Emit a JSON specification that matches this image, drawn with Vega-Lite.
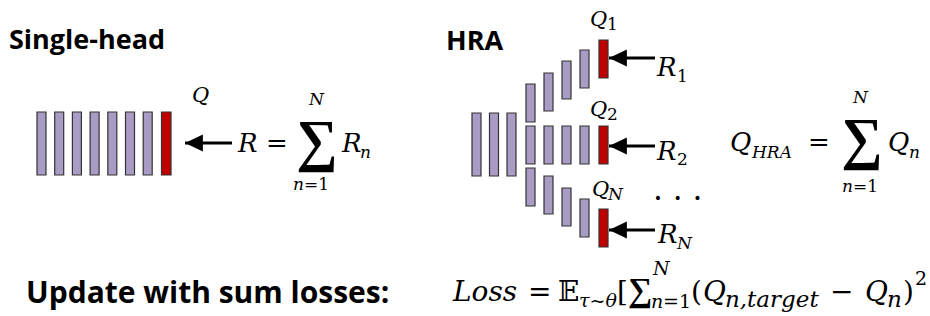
{
  "$schema": "https://vega.github.io/schema/vega-lite/v6.json",
  "width": 930,
  "height": 316,
  "autosize": {"type": "fit", "contains": "padding"},
  "padding": 0,
  "background": "white",
  "config": {"view": {"stroke": null}},
  "datasets": {
    "bars": [
      {"x0": 37, "x1": 46, "y0": 112, "y1": 175, "kind": "hidden"},
      {"x0": 54.7, "x1": 63.7, "y0": 112, "y1": 175, "kind": "hidden"},
      {"x0": 72.4, "x1": 81.4, "y0": 112, "y1": 175, "kind": "hidden"},
      {"x0": 90.1, "x1": 99.1, "y0": 112, "y1": 175, "kind": "hidden"},
      {"x0": 107.8, "x1": 116.8, "y0": 112, "y1": 175, "kind": "hidden"},
      {"x0": 125.5, "x1": 134.5, "y0": 112, "y1": 175, "kind": "hidden"},
      {"x0": 143.2, "x1": 152.2, "y0": 112, "y1": 175, "kind": "hidden"},
      {"x0": 161.5, "x1": 171, "y0": 112, "y1": 175, "kind": "output"},
      {"x0": 472, "x1": 481, "y0": 113, "y1": 176, "kind": "hidden"},
      {"x0": 489.5, "x1": 498.5, "y0": 113, "y1": 176, "kind": "hidden"},
      {"x0": 507, "x1": 516, "y0": 113, "y1": 176, "kind": "hidden"},
      {"x0": 526, "x1": 535, "y0": 84, "y1": 122, "kind": "hidden"},
      {"x0": 544, "x1": 553, "y0": 73, "y1": 111, "kind": "hidden"},
      {"x0": 562, "x1": 571, "y0": 61, "y1": 99, "kind": "hidden"},
      {"x0": 580, "x1": 589, "y0": 50, "y1": 88, "kind": "hidden"},
      {"x0": 599, "x1": 608, "y0": 40, "y1": 78, "kind": "output"},
      {"x0": 526, "x1": 535, "y0": 126, "y1": 164, "kind": "hidden"},
      {"x0": 544, "x1": 553, "y0": 126, "y1": 164, "kind": "hidden"},
      {"x0": 562, "x1": 571, "y0": 126, "y1": 164, "kind": "hidden"},
      {"x0": 580, "x1": 589, "y0": 126, "y1": 164, "kind": "hidden"},
      {"x0": 599, "x1": 608, "y0": 126, "y1": 164, "kind": "output"},
      {"x0": 526, "x1": 535, "y0": 168, "y1": 206, "kind": "hidden"},
      {"x0": 544, "x1": 553, "y0": 176, "y1": 214, "kind": "hidden"},
      {"x0": 562, "x1": 571, "y0": 188, "y1": 226, "kind": "hidden"},
      {"x0": 580, "x1": 589, "y0": 199, "y1": 237, "kind": "hidden"},
      {"x0": 599, "x1": 608, "y0": 209, "y1": 247, "kind": "output"}
    ],
    "arrows": [
      {"tip": 185, "end": 232, "y": 143},
      {"tip": 609, "end": 655, "y": 58},
      {"tip": 609, "end": 655, "y": 146},
      {"tip": 609, "end": 655, "y": 230}
    ],
    "heads": [
      {"x": 9, "y": 49, "t": "Single-head", "lvl": "h1"},
      {"x": 446, "y": 50, "t": "HRA", "lvl": "h1"},
      {"x": 26, "y": 303, "t": "Update with sum losses:", "lvl": "h2"}
    ],
    "mathIt": [
      {"x": 192, "y": 102, "t": "Q", "lvl": "lab"},
      {"x": 238, "y": 152, "t": "R", "lvl": "big"},
      {"x": 342, "y": 152, "t": "R", "lvl": "big"},
      {"x": 360, "y": 158, "t": "n", "lvl": "sub"},
      {"x": 309, "y": 105, "t": "N", "lvl": "sub"},
      {"x": 293, "y": 190, "t": "n", "lvl": "sub"},
      {"x": 590, "y": 26, "t": "Q", "lvl": "lab"},
      {"x": 590, "y": 116, "t": "Q", "lvl": "lab"},
      {"x": 592, "y": 196, "t": "Q", "lvl": "lab"},
      {"x": 608, "y": 200, "t": "N", "lvl": "sub"},
      {"x": 657, "y": 76, "t": "R", "lvl": "big"},
      {"x": 657, "y": 160, "t": "R", "lvl": "big"},
      {"x": 658, "y": 243, "t": "R", "lvl": "big"},
      {"x": 677, "y": 249, "t": "N", "lvl": "sub"},
      {"x": 730, "y": 151, "t": "Q", "lvl": "big"},
      {"x": 752, "y": 158, "t": "HRA", "lvl": "sub"},
      {"x": 853, "y": 103, "t": "N", "lvl": "sub"},
      {"x": 842, "y": 192, "t": "n", "lvl": "sub"},
      {"x": 888, "y": 151, "t": "Q", "lvl": "big"},
      {"x": 909, "y": 158, "t": "n", "lvl": "sub"},
      {"x": 453, "y": 301, "t": "Loss", "lvl": "bbig"},
      {"x": 579, "y": 307, "t": "τ~θ", "lvl": "bsml"},
      {"x": 653, "y": 275, "t": "N", "lvl": "bsml"},
      {"x": 651, "y": 308, "t": "n", "lvl": "bsml"},
      {"x": 703, "y": 301, "t": "Q", "lvl": "bbig"},
      {"x": 725, "y": 307, "t": "n,target", "lvl": "bsub"},
      {"x": 865, "y": 301, "t": "Q", "lvl": "bbig"},
      {"x": 887, "y": 307, "t": "n", "lvl": "bsub"}
    ],
    "mathUp": [
      {"x": 266, "y": 152, "t": "=", "lvl": "big"},
      {"x": 304, "y": 190, "t": "=1", "lvl": "sub"},
      {"x": 607, "y": 30, "t": "1", "lvl": "sub"},
      {"x": 607, "y": 120, "t": "2", "lvl": "sub"},
      {"x": 677, "y": 82, "t": "1", "lvl": "sub"},
      {"x": 677, "y": 165, "t": "2", "lvl": "sub"},
      {"x": 653, "y": 200, "t": ". . .", "lvl": "dots"},
      {"x": 808, "y": 151, "t": "=", "lvl": "big"},
      {"x": 853, "y": 192, "t": "=1", "lvl": "sub"},
      {"x": 528, "y": 301, "t": "=", "lvl": "bbig"},
      {"x": 558, "y": 301, "t": "𝔼", "lvl": "bbig"},
      {"x": 617, "y": 301, "t": "[", "lvl": "bbig"},
      {"x": 663, "y": 308, "t": "=1", "lvl": "bsml"},
      {"x": 691, "y": 301, "t": "(", "lvl": "bbig"},
      {"x": 830, "y": 301, "t": "−", "lvl": "bbig"},
      {"x": 903, "y": 301, "t": ")", "lvl": "bbig"},
      {"x": 915, "y": 285, "t": "2", "lvl": "bsml"}
    ],
    "sigmas": [
      {"x": 296, "y": 143, "lvl": "sigma", "t": "∑"},
      {"x": 841, "y": 141, "lvl": "sigma", "t": "∑"},
      {"x": 628, "y": 291, "lvl": "sig2", "t": "∑"}
    ]
  },
  "layer": [
    {
      "data": {"name": "bars"},
      "mark": {"type": "rect", "stroke": "#333333", "strokeWidth": 1.2},
      "encoding": {
        "x": {"field": "x0", "type": "quantitative", "scale": {"domain": [0, 930], "nice": false, "zero": false}, "axis": null},
        "x2": {"field": "x1"},
        "y": {"field": "y0", "type": "quantitative", "scale": {"domain": [0, 316], "nice": false, "zero": false, "reverse": true}, "axis": null},
        "y2": {"field": "y1"},
        "color": {"field": "kind", "type": "nominal", "scale": {"domain": ["hidden", "output"], "range": ["#A99CC4", "#C00000"]}, "legend": null}
      }
    },
    {
      "data": {"name": "arrows"},
      "mark": {"type": "rule", "color": "black", "strokeWidth": 3},
      "encoding": {
        "x": {"field": "tip", "type": "quantitative"},
        "x2": {"field": "end"},
        "y": {"field": "y", "type": "quantitative"}
      }
    },
    {
      "data": {"name": "arrows"},
      "mark": {"type": "point", "shape": "M0,0L2.1,-1L2.1,1Z", "filled": true, "color": "black", "opacity": 1, "size": 289, "strokeWidth": 0},
      "encoding": {
        "x": {"field": "tip", "type": "quantitative"},
        "y": {"field": "y", "type": "quantitative"}
      }
    },
    {
      "data": {"name": "heads"},
      "mark": {"type": "text", "font": "Open Sans", "fontWeight": "bold", "align": "left", "baseline": "alphabetic", "color": "black"},
      "encoding": {
        "x": {"field": "x", "type": "quantitative"},
        "y": {"field": "y", "type": "quantitative"},
        "text": {"field": "t"},
        "size": {"field": "lvl", "type": "nominal", "scale": {"type": "ordinal", "domain": ["big", "lab", "sub", "bbig", "bsub", "bsml", "sigma", "sig2", "h1", "h2", "dots"], "range": [26, 21, 17, 28, 23, 19, 58, 34, 27, 30, 31]}, "legend": null}
      }
    },
    {
      "data": {"name": "mathIt"},
      "mark": {"type": "text", "font": "DejaVu Serif", "fontStyle": "italic", "align": "left", "baseline": "alphabetic", "color": "black"},
      "encoding": {
        "x": {"field": "x", "type": "quantitative"},
        "y": {"field": "y", "type": "quantitative"},
        "text": {"field": "t"},
        "size": {"field": "lvl", "type": "nominal", "scale": {"type": "ordinal", "domain": ["big", "lab", "sub", "bbig", "bsub", "bsml", "sigma", "sig2", "h1", "h2", "dots"], "range": [26, 21, 17, 28, 23, 19, 58, 34, 27, 30, 31]}, "legend": null}
      }
    },
    {
      "data": {"name": "mathUp"},
      "mark": {"type": "text", "font": "DejaVu Serif", "align": "left", "baseline": "alphabetic", "color": "black"},
      "encoding": {
        "x": {"field": "x", "type": "quantitative"},
        "y": {"field": "y", "type": "quantitative"},
        "text": {"field": "t"},
        "size": {"field": "lvl", "type": "nominal", "scale": {"type": "ordinal", "domain": ["big", "lab", "sub", "bbig", "bsub", "bsml", "sigma", "sig2", "h1", "h2", "dots"], "range": [26, 21, 17, 28, 23, 19, 58, 34, 27, 30, 31]}, "legend": null}
      }
    },
    {
      "data": {"name": "sigmas"},
      "mark": {"type": "text", "font": "Liberation Serif", "fontWeight": "bold", "align": "left", "baseline": "middle", "color": "black"},
      "encoding": {
        "x": {"field": "x", "type": "quantitative"},
        "y": {"field": "y", "type": "quantitative"},
        "text": {"field": "t"},
        "size": {"field": "lvl", "type": "nominal", "scale": {"type": "ordinal", "domain": ["big", "lab", "sub", "bbig", "bsub", "bsml", "sigma", "sig2", "h1", "h2", "dots"], "range": [26, 21, 17, 28, 23, 19, 58, 34, 27, 30, 31]}, "legend": null}
      }
    }
  ]
}
